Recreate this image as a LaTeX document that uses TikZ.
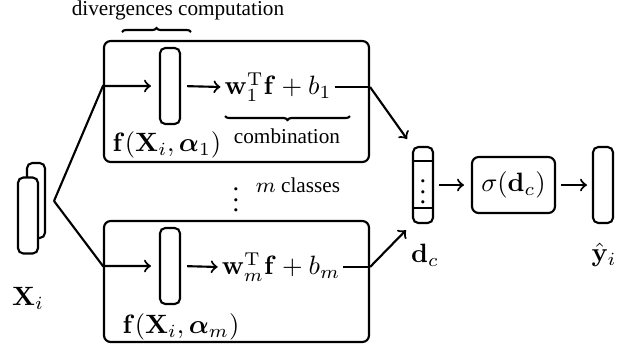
\documentclass[tikz,border=0pt]{standalone}
\usepackage{amsmath,bm}
\usepackage[no-math]{fontspec}
\setmainfont{Liberation Serif}
\usetikzlibrary{decorations.pathreplacing,calc}
\def\px{0.377pt}
\tikzset{
  vec/.style={draw, thick, rounded corners=2pt, minimum width=20*\px, minimum height=76*\px, inner sep=0pt},
  bigbox/.style={draw, thick, rounded corners=2.5pt, minimum width=265*\px, minimum height=121*\px, inner sep=0pt},
  lbl/.style={inner sep=1pt, font=\rmfamily\footnotesize},
  mth/.style={inner sep=1pt},
  conn/.style={thick},
  arr/.style={thick, ->},
  brc/.style={thick, decorate, decoration={brace, amplitude=4*\px}}
}
\begin{document}
\begin{tikzpicture}[x=0.377pt, y=-0.377pt]
\useasboundingbox (0,0) rectangle (631,350);
% X_i
\node[vec, minimum height=75*\px, minimum width=18*\px] (xb) at (36,200.5) {};
\node[vec, fill=white] (xf) at (28,215.5) {};
\node[mth] (xl) at (28,298) {$\mathbf{X}_i$};
\coordinate (apex) at (54,201);
% boxes
\node[bigbox] (box1) at (236.5,101.5) {};
\node[bigbox] (box2) at (236.5,281.5) {};
% vectors in boxes
\node[vec] (v1) at (170,86) {};
\node[vec] (v2) at (170,266) {};
% expressions
\node[mth] (e1) at (278,87) {$\mathbf{w}_1^{\mathrm{T}}\mathbf{f}+b_1$};
\node[mth] (e2) at (281,267) {$\mathbf{w}_m^{\mathrm{T}}\mathbf{f}+b_m$};
% labels
\node[mth] (f1) at (167,145) {$\mathbf{f}(\mathbf{X}_i,\bm{\alpha}_1)$};
\node[mth] (f2) at (181,327) {$\mathbf{f}(\mathbf{X}_i,\bm{\alpha}_m)$};
\node[lbl] (div) at (178,10) {divergences computation};
\node[lbl] (comb) at (287,136) {combination};
\node[mth, inner sep=0pt] (vd) at (236,192) {$\vdots$};
\node[lbl] (mc) at (298,185) {$m$ classes};
% braces
\coordinate (b1a) at (122,32);
\coordinate (b1b) at (191,32);
\draw[brc] (b1a) -- (b1b);
\coordinate (b2a) at (225,116);
\coordinate (b2b) at (350,116);
\draw[brc, decoration={mirror}] (b2a) -- (b2b);
% d_c
\node[vec] (dc) at (423,185) {};
\draw[thick] ($(dc.north west)+(0,15)$) -- ($(dc.north east)+(0,15)$);
\draw[thick] ($(dc.south west)+(0,-16)$) -- ($(dc.south east)+(0,-16)$);
\node[mth, inner sep=0pt] (dcd) at (423,184) {$\vdots$};
\node[mth] (dcl) at (425,255) {$\mathbf{d}_c$};
% sigma
\node[draw, thick, rounded corners=2.5pt, minimum width=83*\px, minimum height=56*\px, inner sep=0pt] (sig) at (513.5,185) {$\sigma(\mathbf{d}_c)$};
% y hat
\node[vec] (yv) at (603,185) {};
\node[mth] (yl) at (604,255) {$\hat{\mathbf{y}}_i$};
% connectors
\draw[arr, shorten >=8*\px] (apex) -- (box1.west |- v1.west) -- (v1.west);
\draw[arr, shorten >=8*\px] (apex) -- (box2.west |- v2.west) -- (v2.west);
\draw[arr, shorten <=6*\px, shorten >=1*\px] (v1.east) -- (e1.west);
\draw[arr, shorten <=6*\px, shorten >=1*\px] (v2.east) -- (e2.west);
\draw[conn] (e1.east) -- (box1.east |- e1.east);
\draw[conn] (e2.east) -- (box2.east |- e2.east);
\draw[arr, shorten >=8.5*\px] (box1.east |- e1.east) -- (dc.north west);
\draw[arr, shorten >=8.5*\px] (box2.east |- e2.east) -- (dc.south west);
\draw[arr, shorten <=5*\px, shorten >=7*\px] (dc.east) -- (sig.west);
\draw[arr, shorten <=5*\px, shorten >=5*\px] (sig.east) -- (yv.west);
\end{tikzpicture}
\end{document}
